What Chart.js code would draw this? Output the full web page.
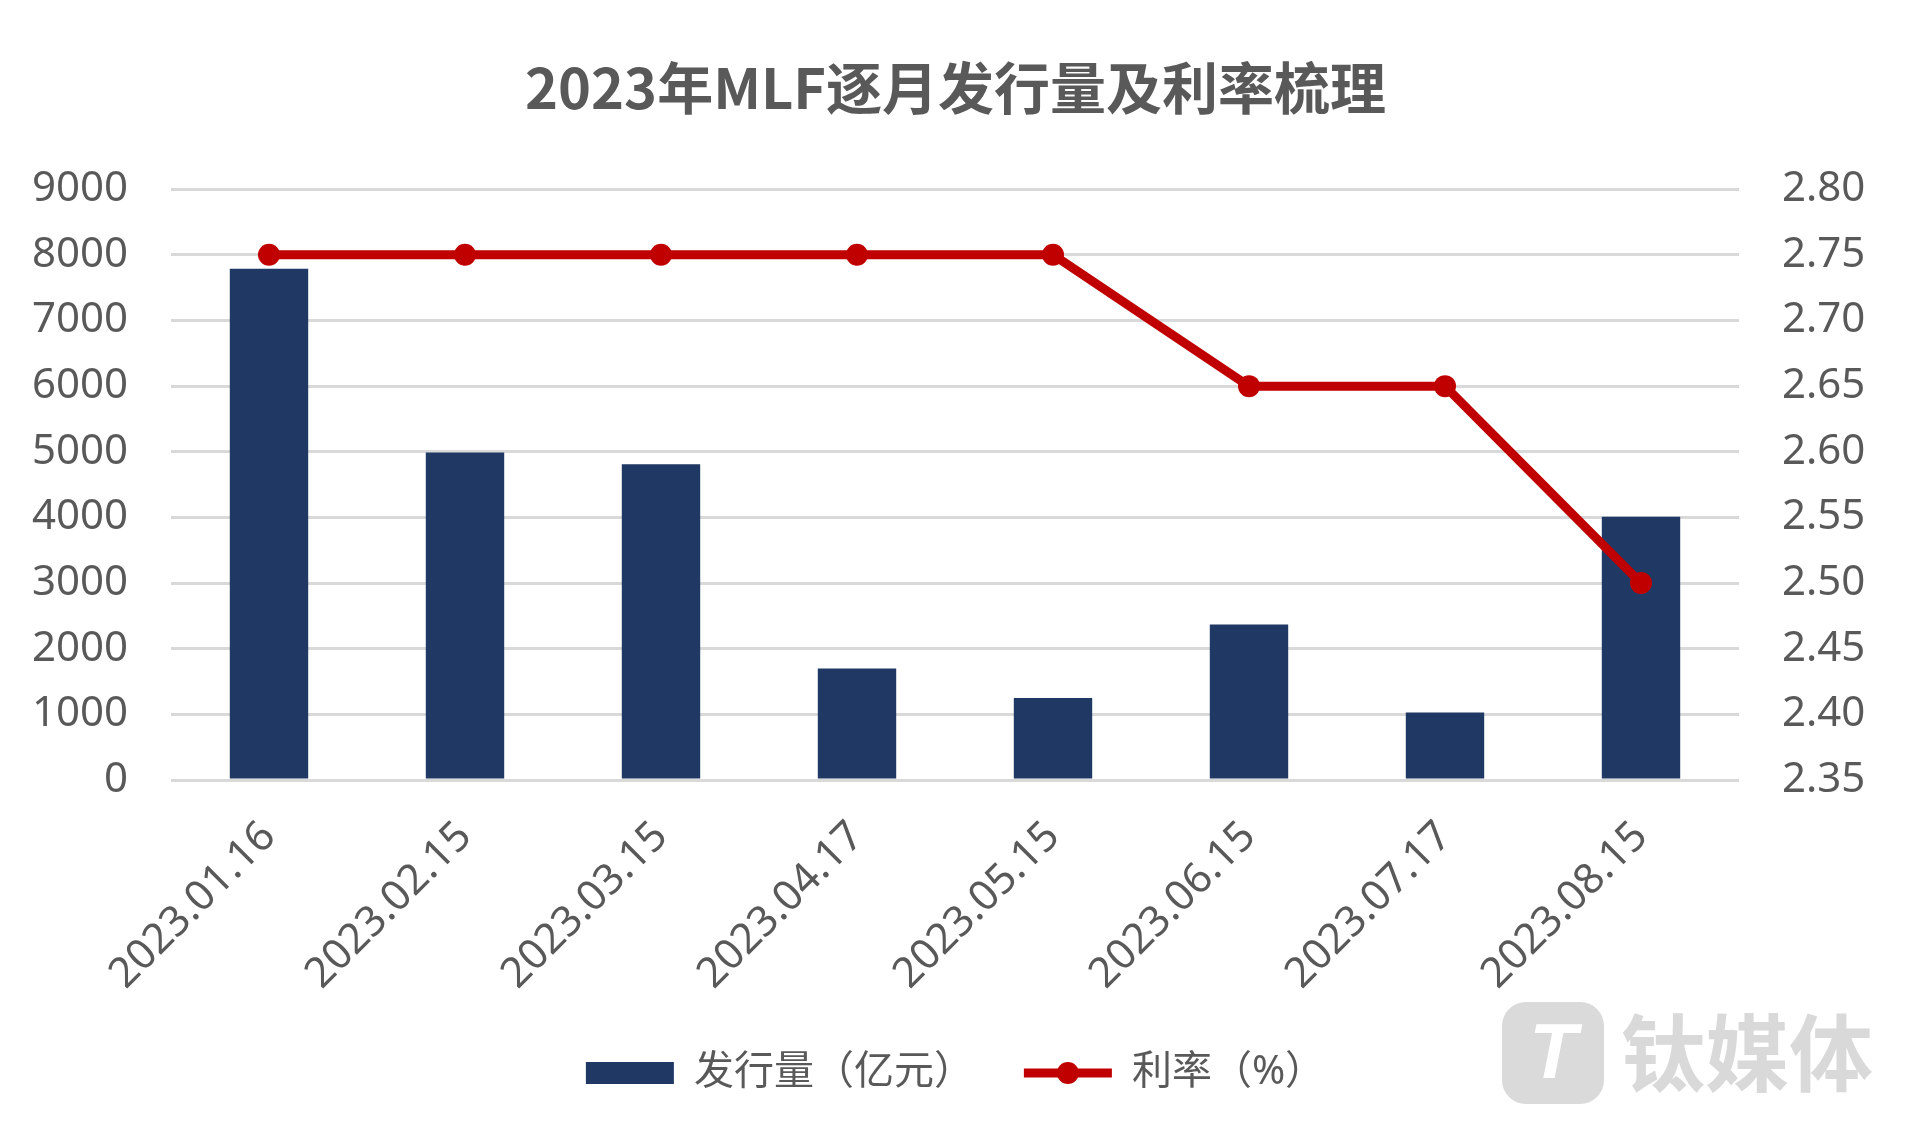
<!DOCTYPE html>
<html>
<head>
<meta charset="utf-8">
<title>2023年MLF逐月发行量及利率梳理</title>
<script src="https://cdn.jsdelivr.net/npm/chart.js@4.4.0/dist/chart.umd.min.js"></script>
<style>
    html, body { margin: 0; padding: 0; background: #ffffff; overflow: hidden; }
    #chartMLF { display: block; }
</style>
</head>
<body>
<canvas id="chartMLF" width="1911" height="1141"></canvas>
<script>
// 2023年MLF逐月发行量及利率

const dates = ['2023.01.16', '2023.02.15', '2023.03.15', '2023.04.17',
               '2023.05.15', '2023.06.15', '2023.07.17', '2023.08.15'];
const volume = [7790, 4990, 4810, 1700, 1250, 2370, 1030, 4010];   // 亿元
const rate = [2.75, 2.75, 2.75, 2.75, 2.75, 2.65, 2.65, 2.50];      // %
const volumeTicks = [0, 1000, 2000, 3000, 4000, 5000, 6000, 7000, 8000, 9000];
const rateTicks = [2.35, 2.40, 2.45, 2.50, 2.55, 2.60, 2.65, 2.70, 2.75, 2.80];

const FONT = '"Noto Sans", "Noto Sans CJK SC", sans-serif';
const GREY_TEXT = '#595959';
const NAVY = '#203864';
const RED = '#c00000';

// legend: dot on the line item + watermark
const extrasPlugin = {
    id: 'extras',
    afterDraw(chart) {
        const ctx = chart.ctx;
        const legend = chart.legend;
        if (legend && legend.legendHitBoxes && legend.legendHitBoxes[1]) {
            const hb = legend.legendHitBoxes[1];
            ctx.save();
            ctx.fillStyle = RED;
            ctx.beginPath();
            ctx.arc(hb.left + 44, hb.top + hb.height / 2, 11, 0, Math.PI * 2);
            ctx.fill();
            ctx.restore();
        }

        // 钛媒体 watermark
        ctx.save();
        ctx.fillStyle = '#dadada';
        ctx.beginPath();
        ctx.roundRect(1502, 1002, 102, 102, 24);
        ctx.fill();
        ctx.fillStyle = '#ffffff';
        ctx.font = 'italic bold 78px "Liberation Sans", sans-serif';
        ctx.textAlign = 'center';
        ctx.textBaseline = 'middle';
        ctx.fillText('T', 1553, 1056);
        ctx.fillStyle = '#d9d9d9';
        ctx.font = 'bold 84px "Noto Sans CJK SC", sans-serif';
        ctx.textAlign = 'left';
        ctx.fillText('钛媒体', 1621, 1053);
        ctx.restore();
    }
};

document.addEventListener('DOMContentLoaded', function() {
    const ctx = document.getElementById('chartMLF');

    new Chart(ctx, {
        data: {
            labels: dates,
            datasets: [
                {
                    type: 'line',
                    label: '利率（%）',
                    data: rate,
                    yAxisID: 'yRate',
                    borderColor: RED,
                    backgroundColor: RED,
                    borderWidth: 9,
                    pointRadius: 11,
                    pointHoverRadius: 11,
                    pointBackgroundColor: RED,
                    pointBorderWidth: 0,
                    tension: 0,
                    order: 0
                },
                {
                    type: 'bar',
                    label: '发行量（亿元）',
                    data: volume,
                    yAxisID: 'yVol',
                    backgroundColor: NAVY,
                    borderWidth: 0,
                    barPercentage: 0.4,
                    categoryPercentage: 1.0,
                    order: 1
                }
            ]
        },
        options: {
            responsive: false,
            animation: false,
            layout: { padding: { top: 0, bottom: 38, left: 0, right: 0 } },
            plugins: {
                title: {
                    display: true,
                    text: '2023年MLF逐月发行量及利率梳理',
                    color: GREY_TEXT,
                    font: { family: '"Noto Sans CJK SC", sans-serif', size: 56, weight: 'bold' },
                    padding: { top: 54, bottom: 68 }
                },
                legend: {
                    position: 'bottom',
                    labels: {
                        usePointStyle: true,
                        pointStyleWidth: 88,
                        boxHeight: 22,
                        padding: 10,
                        color: GREY_TEXT,
                        font: { family: FONT, size: 40 },
                        generateLabels: function(chart) {
                            const ds = chart.data.datasets;
                            return [
                                {
                                    text: ds[1].label + '\u2003',
                                    fillStyle: NAVY,
                                    strokeStyle: NAVY,
                                    lineWidth: 0,
                                    pointStyle: 'rect',
                                    fontColor: GREY_TEXT,
                                    datasetIndex: 1
                                },
                                {
                                    text: ds[0].label,
                                    fillStyle: RED,
                                    strokeStyle: RED,
                                    lineWidth: 9,
                                    pointStyle: 'line',
                                    fontColor: GREY_TEXT,
                                    datasetIndex: 0
                                }
                            ];
                        }
                    }
                },
                tooltip: { enabled: false }
            },
            scales: {
                x: {
                    grid: { display: false },
                    border: { display: false },
                    ticks: {
                        color: GREY_TEXT,
                        font: { family: FONT, size: 42 },
                        maxRotation: 45,
                        minRotation: 45,
                        padding: 24
                    },
                    afterFit: function(scale) { scale.height = 263; }
                },
                yVol: {
                    position: 'left',
                    min: 0,
                    max: 9000,
                    afterBuildTicks: function(scale) {
                        scale.ticks = volumeTicks.map(v => ({ value: v }));
                    },
                    grid: { color: '#d9d9d9', lineWidth: 3, drawTicks: false },
                    border: { display: false },
                    ticks: {
                        color: GREY_TEXT,
                        font: { family: FONT, size: 42 },
                        padding: 43,
                        callback: function(value) { return String(value); }
                    },
                    afterFit: function(scale) { scale.width = 171; }
                },
                yRate: {
                    position: 'right',
                    min: 2.35,
                    max: 2.80,
                    afterBuildTicks: function(scale) {
                        scale.ticks = rateTicks.map(v => ({ value: v }));
                    },
                    grid: { display: false, drawTicks: false },
                    border: { display: false },
                    ticks: {
                        color: GREY_TEXT,
                        font: { family: FONT, size: 42 },
                        padding: 43,
                        callback: function(value) { return Number(value).toFixed(2); }
                    },
                    afterFit: function(scale) { scale.width = 172; }
                }
            }
        },
        plugins: [extrasPlugin]
    });
});
</script>
</body>
</html>
